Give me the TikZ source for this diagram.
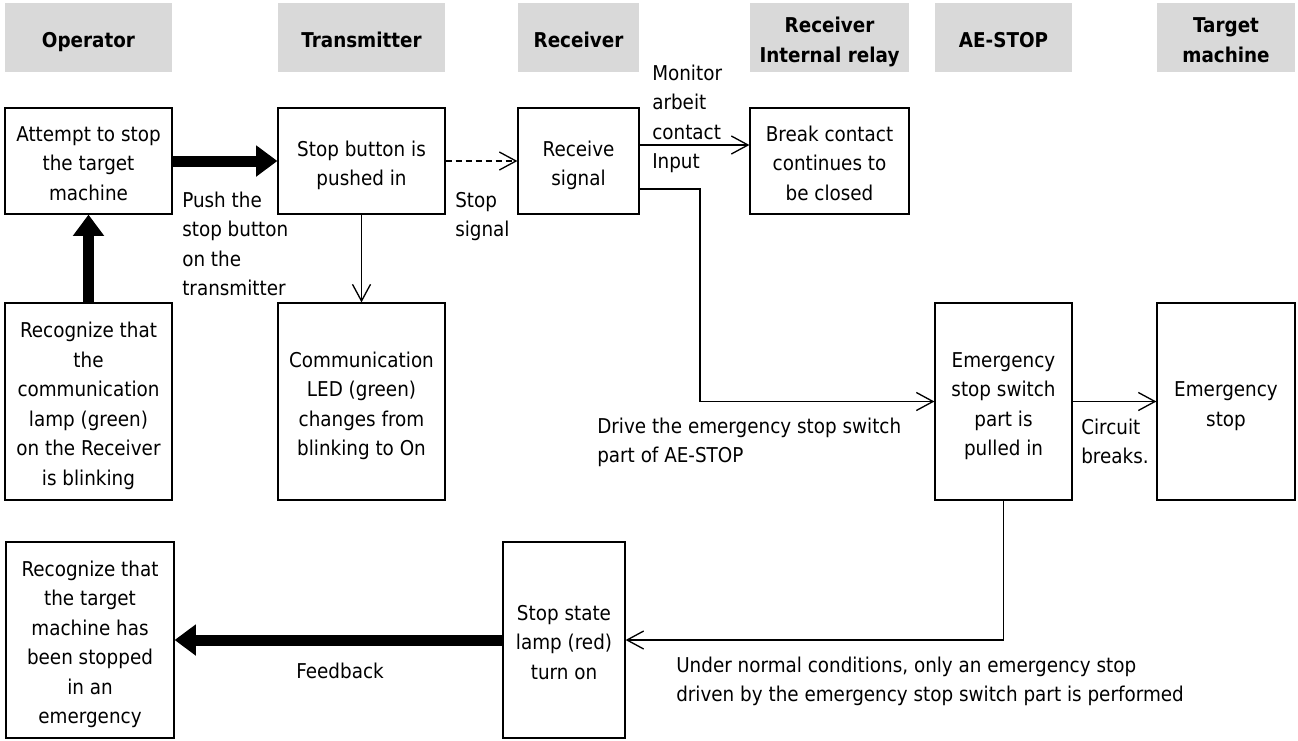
\documentclass[tikz,border=0pt]{standalone}
\usepackage{fontspec}
\setmainfont{DejaVu Sans}[FakeStretch=0.9]
\usetikzlibrary{arrows.meta}
\definecolor{hdrgray}{HTML}{D9D9D9}
\newcommand\fs{\fontsize{15.3pt}{22.1pt}\selectfont}
\newcommand\bt[1]{\raisebox{-3pt}[\height][\depth]{\begin{tabular}{@{}c@{}}#1\end{tabular}}}
\tikzset{
  box/.style={draw=black, line width=0.9pt, rectangle, inner sep=0pt, font=\fs},
  hdr/.style={fill=hdrgray, rectangle, inner sep=0pt, font=\fs\bfseries},
  lbl/.style={inner sep=0pt, align=left, anchor=west, font=\fs},
  thinarrow/.style={line width=1pt, -{Straight Barb[length=12.5pt,width=13.5pt]}},
  thickarrow/.style={line width=8.25pt, -{Triangle[length=16pt,width=22.5pt]}},
}
\begin{document}
\begin{tikzpicture}[x=0.75pt,y=-0.75pt]
\useasboundingbox (0,0) rectangle (1298,740);
% headers
\node[hdr, minimum width=125.25pt, minimum height=51.75pt] (hOp) at (88.5,37.5) {\bt{Operator}};
\node[hdr, minimum width=125.25pt, minimum height=51.75pt] (hTx) at (361.5,37.5) {\bt{Transmitter}};
\node[hdr, minimum width=90.75pt, minimum height=51.75pt] (hRx) at (578.5,37.5) {\bt{Receiver}};
\node[hdr, minimum width=119.25pt, minimum height=51.75pt] (hRel) at (829.5,37.5) {\bt{Receiver\\Internal relay}};
\node[hdr, minimum width=102.75pt, minimum height=51.75pt] (hAE) at (1003.5,37.5) {\bt{AE-STOP}};
\node[hdr, minimum width=103.5pt, minimum height=51.75pt] (hTg) at (1226,37.5) {\bt{Target\\machine}};
% boxes
\node[box, minimum width=125.25pt, minimum height=79.5pt] (attempt) at (88.5,161) {\bt{Attempt to stop\\the target\\machine}};
\node[box, minimum width=125.25pt, minimum height=147.75pt] (recog1) at (88.5,401.5) {\bt{Recognize that\\the\\communication\\lamp (green)\\on the Receiver\\is blinking}};
\node[box, minimum width=126pt, minimum height=147pt] (recog2) at (90,640) {\bt{Recognize that\\the target\\machine has\\been stopped\\in an\\emergency}};
\node[box, minimum width=125.25pt, minimum height=79.5pt] (stopbtn) at (361.5,161) {\bt{Stop button is\\pushed in}};
\node[box, minimum width=125.25pt, minimum height=147.75pt] (commled) at (361.5,401.5) {\bt{Communication\\LED (green)\\changes from\\blinking to On}};
\node[box, minimum width=90.75pt, minimum height=79.5pt] (recv) at (578.5,161) {\bt{Receive\\signal}};
\node[box, minimum width=119.25pt, minimum height=79.5pt] (brk) at (829.5,161) {\bt{Break contact\\continues to\\be closed}};
\node[box, minimum width=102.75pt, minimum height=147.75pt] (esw) at (1003.5,401.5) {\bt{Emergency\\stop switch\\part is\\pulled in}};
\node[box, minimum width=103.5pt, minimum height=147.75pt] (estop) at (1226,401.5) {\bt{Emergency\\stop}};
\node[box, minimum width=91.5pt, minimum height=147pt] (lamp) at (564,640) {\bt{Stop state\\lamp (red)\\turn on}};
% labels
\node[lbl] (push) at (182,244) {Push the\\stop button\\on the\\transmitter};
\node[lbl] (stopsig) at (455,216.5) {Stop\\signal};
\node[lbl] (monitor) at (652,119) {Monitor\\arbeit\\contact\\Input};
\node[lbl] (drive) at (597,442.5) {Drive the emergency stop switch\\part of AE-STOP};
\node[lbl] (circuit) at (1081,441.5) {Circuit\\breaks.};
\node[font=\fs, inner sep=0pt] (feedback) at (340,671) {Feedback};
\node[lbl] (under) at (676,681.5) {Under normal conditions, only an emergency stop\\driven by the emergency stop switch part is performed};
% connectors
\coordinate (elb) at (700,189);
\draw[thickarrow] (attempt.east) -- (stopbtn.west);
\draw[thickarrow] (recog1.north) -- (attempt.south);
\draw[thinarrow] (stopbtn.south) -- (commled.north);
\draw[thinarrow, dash pattern=on 4.5pt off 3pt] (stopbtn.east) -- (recv.west);
\draw[thinarrow] ([yshift=12pt]recv.east) -- ([yshift=12pt]brk.west);
\draw[thinarrow] ([yshift=-21pt]recv.east) -- (elb) |- (esw.west);
\draw[thinarrow] (esw.east) -- (estop.west);
\draw[thinarrow] (esw.south) |- (lamp.east);
\draw[thickarrow] (lamp.west) -- (recog2.east);
\end{tikzpicture}
\end{document}
